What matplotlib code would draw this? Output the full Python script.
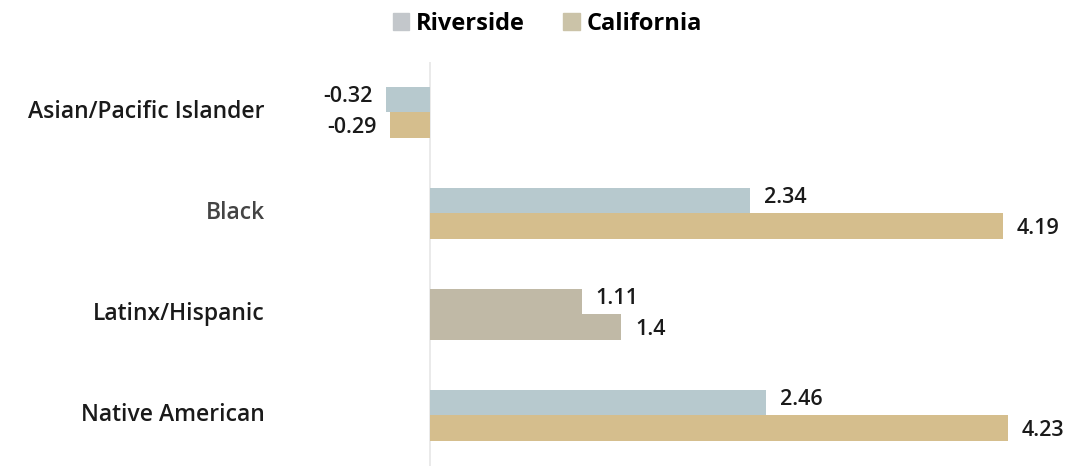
import matplotlib

matplotlib.use("Agg")
import matplotlib.pyplot as plt
from matplotlib.patches import Patch
import numpy as np

plt.rcParams["font.family"] = ["Open Sans", "DejaVu Sans"]

groups = ["Asian/Pacific Islander", "Black", "Latinx/Hispanic", "Native American"]
riverside = [-0.32, 2.34, 1.11, 2.46]
california = [-0.29, 4.19, 1.4, 4.23]

RIV_COLOR = "#b7c9ce"
CAL_COLOR = "#d5be8d"
# the Latinx pair is drawn in a neutral shade in the source layout
riv_colors = [RIV_COLOR, RIV_COLOR, "#c0b9a6", RIV_COLOR]
cal_colors = [CAL_COLOR, CAL_COLOR, "#c0b9a6", CAL_COLOR]

fig = plt.figure(figsize=(10.67, 4.66), dpi=100)
ax = fig.add_axes([0.281, 0.0, 0.713, 0.867])

y = np.arange(len(groups))
h = 0.257
ax.barh(y - h / 2, riverside, height=h, color=riv_colors)
ax.barh(y + h / 2, california, height=h, color=cal_colors)

for yi, v in zip(y - h / 2, riverside):
    off = 0.1 if v >= 0 else -0.1
    ax.text(v + off, yi - 0.03, f"{v:g}", ha="left" if v >= 0 else "right",
            va="center", fontsize=15.5, fontweight="semibold", color="#1a1a1a")
for yi, v in zip(y + h / 2, california):
    off = 0.1 if v >= 0 else -0.1
    ax.text(v + off, yi + 0.02, f"{v:g}", ha="left" if v >= 0 else "right",
            va="center", fontsize=15.5, fontweight="semibold", color="#1a1a1a")

ax.axvline(0, color="#e6e6e6", lw=1.2, zorder=0)
ax.set_xlim(-0.952, 4.612)
ax.set_ylim(3.5, -0.5)
ax.set_xticks([])
ax.set_yticks([])
for s in ax.spines.values():
    s.set_visible(False)

for yi, name in zip(y, groups):
    fig.text(0.248, ax.transData.transform((0, yi))[1] / fig.bbox.height, name,
             ha="right", va="center", fontsize=16.5, fontweight="semibold",
             color="#444444" if name == "Black" else "#1a1a1a")

handles = [Patch(color="#c3c7cb", label="Riverside"),
           Patch(color="#cbc3a8", label="California")]
fig.legend(handles=handles, loc="upper center", bbox_to_anchor=(0.513, 1.02),
           ncol=2, frameon=False, prop={"size": 17, "weight": "bold"},
           handlelength=0.7, handleheight=0.7, handletextpad=0.3,
           columnspacing=1.6)

fig.savefig("out.png")
